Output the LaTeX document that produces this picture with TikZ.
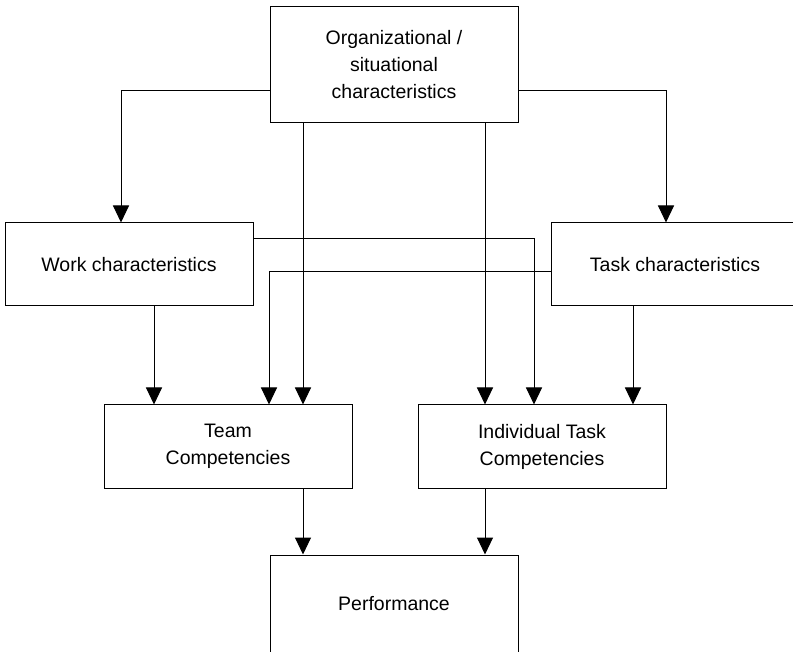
\documentclass[tikz,border=0pt]{standalone}
\usepackage{fontspec}
\setmainfont{Liberation Sans}
\usetikzlibrary{arrows.meta}

\tikzset{
  box/.style={draw, line width=1pt, minimum width=248pt, minimum height=83pt,
    align=center, inner sep=0pt, font=\fontsize{19.5}{27}\selectfont},
  arr/.style={line width=1pt, -{Triangle[length=17pt,width=16pt]}},
}

\begin{document}
\begin{tikzpicture}[x=1pt, y=-1pt]
\useasboundingbox (0,0) rectangle (793,652);

\node[box, minimum height=116pt] (org) at (394,65) {Organizational /\\situational\\characteristics};
\node[box] (work) at (129,264.5) {Work characteristics};
\node[box] (task) at (675,264.5) {Task characteristics};
\node[box] (team) at (228,446.5) {Team\\Competencies};
\node[box] (indiv) at (542,446.5) {Individual Task\\Competencies};
\node[box, minimum height=98pt] (perf) at (394,604) {Performance};

% from the organisation
\draw[arr] (org.west |- 0,91) -| (121,0 |- work.north);
\draw[arr] (org.east |- 0,91) -| (666,0 |- task.north);
\draw[arr] (303,0 |- org.south) -- (303,0 |- team.north);
\draw[arr] (485,0 |- org.south) -- (485,0 |- indiv.north);

% crossing links
\draw[arr] (work.east |- 0,239) -| (534,0 |- indiv.north);
\draw[arr] (task.west |- 0,272) -| (269,0 |- team.north);

\draw[arr] (154,0 |- work.south) -- (154,0 |- team.north);
\draw[arr] (633,0 |- task.south) -- (633,0 |- indiv.north);

% to performance
\draw[arr] (303,0 |- team.south) -- (303,0 |- perf.north);
\draw[arr] (485,0 |- indiv.south) -- (485,0 |- perf.north);
\end{tikzpicture}
\end{document}
